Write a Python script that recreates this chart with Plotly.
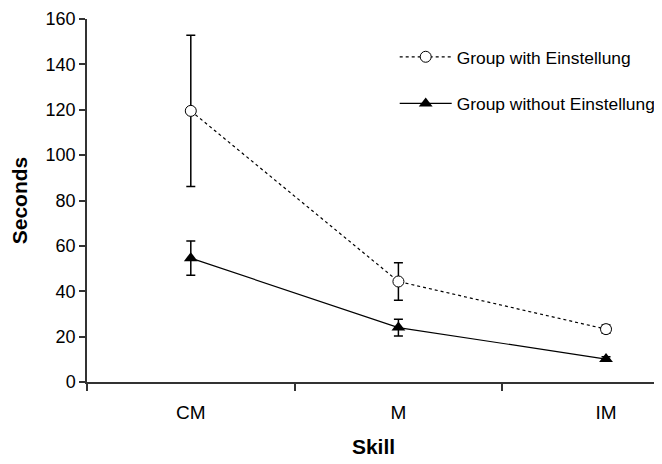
import plotly.graph_objects as go

skills = ["CM", "M", "IM"]
with_einst = [119.5, 44.3, 23.3]
with_err = [33.3, 8.3, 1.8]
without_einst = [54.6, 24.0, 10.1]
without_err = [7.5, 3.7, 1.0]
y_ticks = [0, 20, 40, 60, 80, 100, 120, 140, 160]

font_family = "Liberation Sans, Arial, sans-serif"

fig = go.Figure()
fig.add_trace(go.Scatter(
    x=skills, y=with_einst, name="Group with Einstellung",
    mode="lines+markers", legendgroup="a",
    line=dict(color="black", width=1.2, dash="dot"),
    marker=dict(symbol="circle", size=11, color="white", line=dict(color="black", width=1)),
    error_y=dict(type="data", array=with_err, visible=True, color="black", thickness=1.5, width=4.5),
))
fig.add_trace(go.Scatter(
    x=skills, y=without_einst, name="Group without Einstellung",
    mode="lines+markers", legendgroup="b",
    line=dict(color="black", width=1.2),
    marker=dict(symbol="triangle-up", size=12, color="black", line=dict(color="black", width=0)),
    error_y=dict(type="data", array=without_err, visible=True, color="black", thickness=1.5, width=4.5),
))

fig.update_layout(
    width=654, height=456,
    margin=dict(l=79, r=2, t=11, b=82, autoexpand=False),
    paper_bgcolor="white", plot_bgcolor="white",
    font=dict(family=font_family, size=18, color="black"),
    legend=dict(x=0.537, y=0.945, xanchor="left", yanchor="top",
                font=dict(size=17.4), tracegroupgap=21, bgcolor="rgba(0,0,0,0)",
                itemwidth=52, borderwidth=0),
    xaxis=dict(
        type="category", range=[-0.5, 2.26], tickson="boundaries",
        showline=True, linecolor="#333", linewidth=1.5,
        ticks="outside", ticklen=7, tickcolor="#333", tickwidth=1.5,
        tickfont=dict(size=19), ticklabelstandoff=12,
        showgrid=False, zeroline=False,
        title=dict(text="<b>Skill</b>", font=dict(size=21), standoff=18),
    ),
    yaxis=dict(
        range=[0, 160], tickvals=y_ticks,
        showline=True, linecolor="#333", linewidth=1.5,
        ticks="outside", ticklen=6, tickcolor="#333", tickwidth=1.5,
        tickfont=dict(size=18),
        showgrid=False, zeroline=False,
        title=dict(text="<b>Seconds</b>", font=dict(size=21), standoff=12),
    ),
)

fig.write_html("out.html")
